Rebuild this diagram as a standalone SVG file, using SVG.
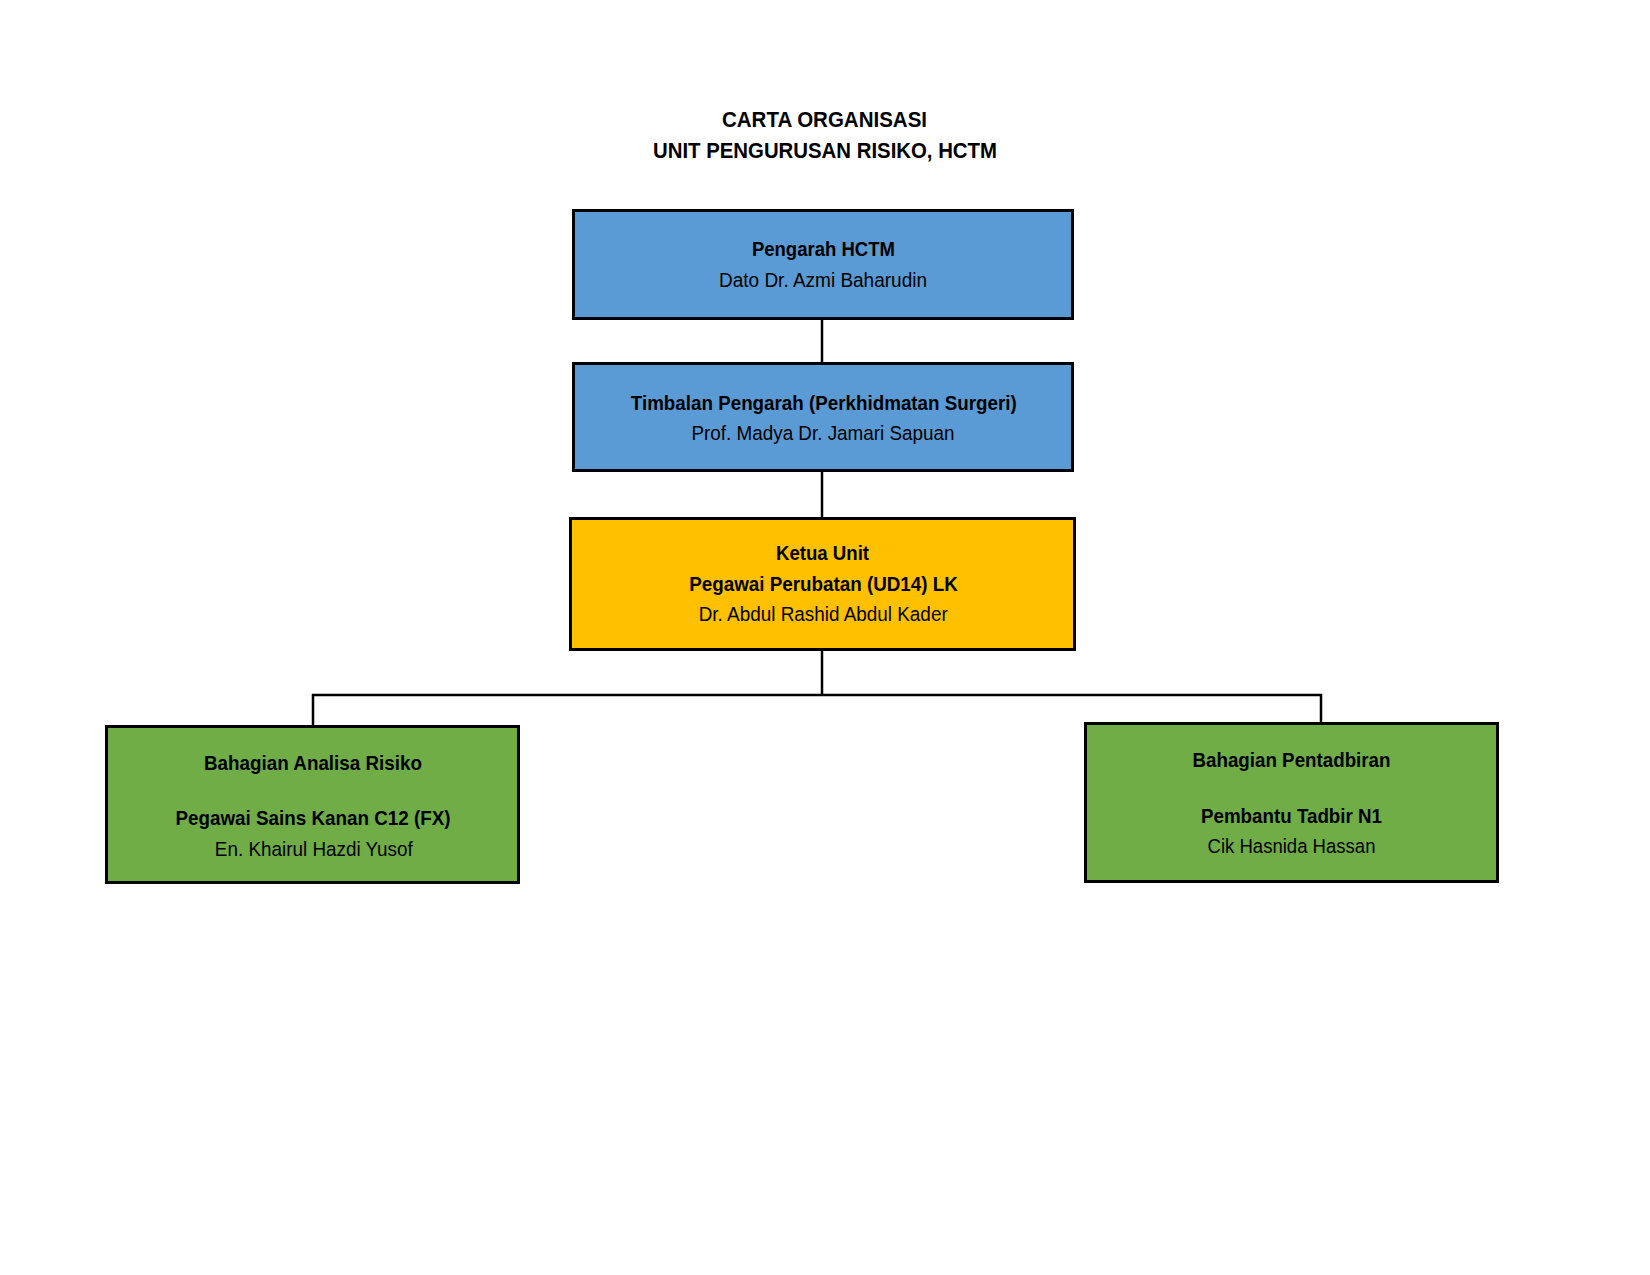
<svg xmlns="http://www.w3.org/2000/svg" width="1650" height="1275" viewBox="0 0 1650 1275">
  <style>
    text { font-family: "Liberation Sans Narrow", "Liberation Sans", Arial, sans-serif; fill: #000; text-anchor: middle; }
    .title { font-size: 22.5px; font-weight: bold; }
    .b { font-size: 21px; font-weight: bold; }
    .r { font-size: 20.5px; }
    .box { stroke: #000; stroke-width: 3; }
    .blue { fill: #5B9BD5; }
    .yellow { fill: #FFC000; }
    .green { fill: #70AD47; }
    .conn { fill: none; stroke: #000; stroke-width: 2.5; }
  </style>
  <rect width="1650" height="1275" fill="#FFFFFF"/>
  <g id="title">
    <text class="title" x="824.5" y="126.7" textLength="205" lengthAdjust="spacingAndGlyphs">CARTA ORGANISASI</text>
    <text class="title" x="825" y="157.7" textLength="344" lengthAdjust="spacingAndGlyphs">UNIT PENGURUSAN RISIKO, HCTM</text>
  </g>
  <g id="connectors">
    <line class="conn" x1="822" y1="320" x2="822" y2="362"/>
    <line class="conn" x1="822" y1="472" x2="822" y2="517"/>
    <line class="conn" x1="822" y1="651" x2="822" y2="695"/>
    <polyline class="conn" points="313,725 313,695 1321,695 1321,722"/>
  </g>
  <g id="node-pengarah">
    <rect class="box blue" x="573.5" y="210.5" width="499" height="108"/>
    <text class="b" x="823.4" y="256" textLength="143" lengthAdjust="spacingAndGlyphs">Pengarah HCTM</text>
    <text class="r" x="823" y="287" textLength="208" lengthAdjust="spacingAndGlyphs">Dato Dr. Azmi Baharudin</text>
  </g>
  <g id="node-timbalan">
    <rect class="box blue" x="573.5" y="363.5" width="499" height="107"/>
    <text class="b" x="823.8" y="409.5" textLength="386" lengthAdjust="spacingAndGlyphs">Timbalan Pengarah (Perkhidmatan Surgeri)</text>
    <text class="r" x="823" y="440" textLength="263" lengthAdjust="spacingAndGlyphs">Prof. Madya Dr. Jamari Sapuan</text>
  </g>
  <g id="node-ketua">
    <rect class="box yellow" x="570.5" y="518.5" width="504" height="131"/>
    <text class="b" x="822.5" y="560" textLength="93" lengthAdjust="spacingAndGlyphs">Ketua Unit</text>
    <text class="b" x="823.5" y="590.5" textLength="268.5" lengthAdjust="spacingAndGlyphs">Pegawai Perubatan (UD14) LK</text>
    <text class="r" x="823.2" y="620.5" textLength="249" lengthAdjust="spacingAndGlyphs">Dr. Abdul Rashid Abdul Kader</text>
  </g>
  <g id="node-analisa">
    <rect class="box green" x="106.5" y="726.5" width="412" height="156"/>
    <text class="b" x="313" y="769.5" textLength="218" lengthAdjust="spacingAndGlyphs">Bahagian Analisa Risiko</text>
    <text class="b" x="313" y="825" textLength="275" lengthAdjust="spacingAndGlyphs">Pegawai Sains Kanan C12 (FX)</text>
    <text class="r" x="313.8" y="856" textLength="198" lengthAdjust="spacingAndGlyphs">En. Khairul Hazdi Yusof</text>
  </g>
  <g id="node-pentadbiran">
    <rect class="box green" x="1085.5" y="723.5" width="412" height="158"/>
    <text class="b" x="1291.5" y="767" textLength="198" lengthAdjust="spacingAndGlyphs">Bahagian Pentadbiran</text>
    <text class="b" x="1291.5" y="823" textLength="181" lengthAdjust="spacingAndGlyphs">Pembantu Tadbir N1</text>
    <text class="r" x="1291.5" y="852.6" textLength="168" lengthAdjust="spacingAndGlyphs">Cik Hasnida Hassan</text>
  </g>
</svg>
